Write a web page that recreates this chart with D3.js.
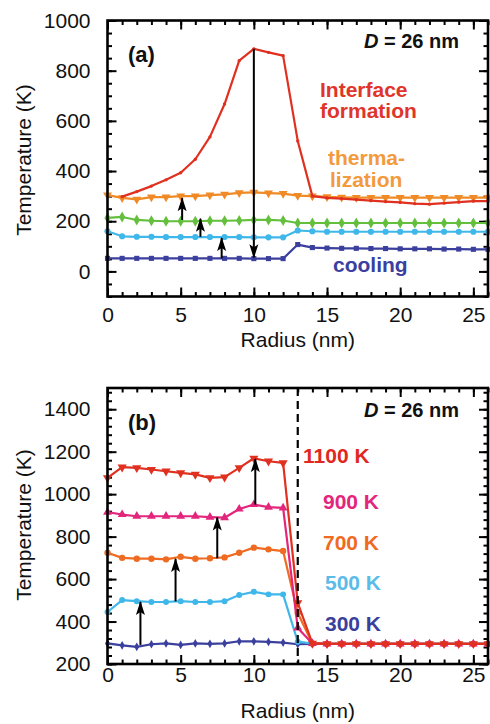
<!DOCTYPE html>
<html>
<head>
<meta charset="utf-8">
<script src="https://cdn.jsdelivr.net/npm/d3@7"></script>
<style>
  body { margin: 0; background: #fff; }
  svg text { font-family: "Liberation Sans", Arial, Helvetica, sans-serif; }
</style>
</head>
<body>
<svg id="fig" width="490" height="724"></svg>
<script>
// ---------- data ----------
const radius = [0,1,2,3,4,5,6,7,8,9,10,11,12,13,14,15,16,17,18,19,20,21,22,23,24,25,26];

// (a) temperature profiles at successive stages, D = 26 nm
const interfaceT = [null,298,318,340,365,393,447,536,667,840,887,873,860,520,300,293,290,286,282,278,275,270,268,272,276,280,280];
const thermalT   = [304,293,287,296,296,300,300,304,307,313,315,312,310,302,300,297,295,294,294,294,294,294,294,294,294,294,294];
const greenT     = [213,217,205,202,200,200,200,202,202,203,205,205,203,193,193,193,193,193,193,193,193,193,193,193,193,193,193];
const cyanT      = [160,140,138,138,137,137,137,137,137,137,136,136,136,163,160,158,158,158,158,158,158,158,158,158,158,158,158];
const coolingT   = [52,52,52,52,52,52,52,52,52,52,51,51,51,107,95,93,92,92,91,91,90,90,90,89,89,88,88];

// (b) profiles for different initial temperatures, D = 26 nm
const t1100 = [1077,1127,1124,1116,1108,1100,1093,1077,1080,1124,1169,1155,1147,488,297,295,295,295,295,295,295,295,295,295,295,295,295];
const t900  = [915,904,896,896,896,896,896,892,889,930,951,939,935,370,297,295,295,295,295,295,295,295,295,295,295,295,295];
const t700  = [724,700,696,696,693,705,696,698,702,724,748,740,732,440,297,295,295,295,295,295,295,295,295,295,295,295,295];
const t500  = [445,501,496,492,492,496,492,492,496,525,540,528,528,305,296,295,295,295,295,295,295,295,295,295,295,295,295];
const t300  = [297,288,281,293,297,290,297,295,297,307,307,304,301,293,295,295,295,295,295,295,295,295,295,295,295,295,295];

// arrows: [radius, from T, to T]
const arrowsA = [[10, 887, 56], [5.1, 205, 292], [6.35, 138, 210], [7.8, 52, 133]];
const arrowsB = [[2.25, 290, 492], [4.65, 495, 695], [7.5, 698, 890], [10.1, 951, 1165]];

// axis ticks
const xTicks  = [0, 5, 10, 15, 20, 25];
const yTicksA = [0, 200, 400, 600, 800, 1000];
const yTicksB = [200, 400, 600, 800, 1000, 1200, 1400];

// ---------- drawing ----------
const svg = d3.select("#fig");
const FONT = '"Liberation Sans", Arial, Helvetica, sans-serif';

const defs = svg.append("defs");
defs.append("marker")
  .attr("id", "head")
  .attr("viewBox", "0 0 14 10")
  .attr("refX", 13).attr("refY", 5)
  .attr("markerWidth", 14).attr("markerHeight", 10)
  .attr("markerUnits", "userSpaceOnUse")
  .attr("orient", "auto")
  .append("path").attr("d", "M0,0.5 L14,5 L0,9.5 L3,5 Z").attr("fill", "#000");

function panel(opt) {
  const x = d3.scaleLinear().domain([0, 26]).range(opt.xr);
  const y = d3.scaleLinear().domain(opt.yd).range(opt.yr);
  const g = svg.append("g");
  const [x0, x1] = opt.xr, [y0, y1] = opt.yr;

  const styleAxis = sel => {
    sel.select(".domain").remove();
    sel.attr("font-size", 21).attr("font-family", FONT);
    sel.selectAll("line").attr("stroke", "#000").attr("stroke-width", 2);
    sel.selectAll("text").attr("fill", "#111");
  };
  const minorX = d3.range(0, 27, 1);
  const minorY = d3.range(opt.yd[0], opt.yd[1] + 0.1, opt.yMinor);
  const fmt = d3.format("d");

  // minor ticks on all four sides
  g.append("g").attr("transform", `translate(0,${y0})`)
    .call(d3.axisBottom(x).tickValues(minorX).tickSize(-4.5).tickFormat("")).call(styleAxis);
  g.append("g").attr("transform", `translate(0,${y1})`)
    .call(d3.axisTop(x).tickValues(minorX).tickSize(-4.5).tickFormat("")).call(styleAxis);
  g.append("g").attr("transform", `translate(${x0},0)`)
    .call(d3.axisLeft(y).tickValues(minorY).tickSize(-4.5).tickFormat("")).call(styleAxis);
  g.append("g").attr("transform", `translate(${x1},0)`)
    .call(d3.axisRight(y).tickValues(minorY).tickSize(-4.5).tickFormat("")).call(styleAxis);

  // major ticks with labels
  g.append("g").attr("transform", `translate(0,${y0})`)
    .call(d3.axisBottom(x).tickValues(xTicks).tickSize(-9).tickPadding(opt.xPad).tickFormat(fmt)).call(styleAxis);
  g.append("g").attr("transform", `translate(0,${y1})`)
    .call(d3.axisTop(x).tickValues(xTicks).tickSize(-9).tickFormat("")).call(styleAxis);
  g.append("g").attr("transform", `translate(${x0},0)`)
    .call(d3.axisLeft(y).tickValues(opt.yTicks).tickSize(-9).tickPadding(17).tickFormat(fmt)).call(styleAxis);
  g.append("g").attr("transform", `translate(${x1},0)`)
    .call(d3.axisRight(y).tickValues(opt.yTicks).tickSize(-9).tickFormat("")).call(styleAxis);

  // series
  const line = d3.line().x(d => x(d[0])).y(d => y(d[1]));
  opt.series.forEach(s => {
    const pts = radius.map((r, i) => [r, s.values[i]]).filter(d => d[1] != null);
    g.append("path").datum(pts).attr("d", line)
      .attr("fill", "none").attr("stroke", s.color).attr("stroke-width", 2.2)
      .attr("stroke-linejoin", "round");
    g.selectAll(null).data(pts).enter().append("path")
      .attr("d", d3.symbol().type(s.shape).size(s.size)())
      .attr("transform", d => `translate(${x(d[0])},${y(d[1])})${s.flip ? " rotate(180)" : ""}`)
      .attr("fill", s.color);
  });

  // dashed marker line
  if (opt.dashAt != null) {
    g.append("line")
      .attr("x1", x(opt.dashAt)).attr("x2", x(opt.dashAt))
      .attr("y1", y1).attr("y2", y0)
      .attr("stroke", "#000").attr("stroke-width", 2.2)
      .attr("stroke-dasharray", "8,5");
  }

  // arrows
  opt.arrows.forEach(a => {
    g.append("line")
      .attr("x1", x(a[0])).attr("x2", x(a[0]))
      .attr("y1", y(a[1])).attr("y2", y(a[2]))
      .attr("stroke", "#000").attr("stroke-width", 2)
      .attr("marker-end", "url(#head)");
  });

  // frame
  g.append("rect").attr("x", x0).attr("y", y1).attr("width", x1 - x0).attr("height", y0 - y1)
    .attr("fill", "none").attr("stroke", "#000").attr("stroke-width", 2.6);

  // axis titles
  g.append("text").attr("x", (x0 + x1) / 2).attr("y", opt.xTitleY)
    .attr("text-anchor", "middle").attr("font-size", 21).attr("fill", "#111")
    .text("Radius (nm)");
  g.append("text")
    .attr("transform", `translate(31,${opt.yTitleY}) rotate(-90)`)
    .attr("text-anchor", "middle").attr("font-size", 21).attr("fill", "#111")
    .text("Temperature (K)");

  // panel tag and size note
  g.append("text").attr("x", 128).attr("y", opt.tagY).attr("font-size", 22)
    .attr("font-weight", "bold").attr("fill", "#111").text(opt.tag);
  const dt = g.append("text").attr("x", 459).attr("y", opt.dY).attr("text-anchor", "end")
    .attr("font-size", 20).attr("font-weight", "bold").attr("fill", "#111");
  dt.append("tspan").attr("font-style", "italic").text("D");
  dt.append("tspan").text(" = 26 nm");

  // series labels
  opt.labels.forEach(l => {
    g.append("text").attr("x", l.x).attr("y", l.y).attr("font-size", 21)
      .attr("font-weight", "bold").attr("fill", l.color).text(l.text);
  });
}

const RED = "#e0301f", ORANGE = "#f08a26", GREEN = "#63bf3c", CYAN = "#3fb7ea", BLUE = "#3b3f9e";
const MAG = "#e3257c", ORB = "#ef6b22";

panel({
  xr: [107.5, 488], yd: [-100, 1000], yr: [296.5, 20.5],
  yTicks: yTicksA, yMinor: 50, xPad: 11,
  xTitleY: 347, yTitleY: 160, tag: "(a)", tagY: 62, dY: 48,
  series: [
    { values: coolingT, color: BLUE, shape: d3.symbolSquare, size: 26 },
    { values: cyanT, color: CYAN, shape: d3.symbolCircle, size: 30 },
    { values: greenT, color: GREEN, shape: d3.symbolDiamond, size: 34 },
    { values: thermalT, color: ORANGE, shape: d3.symbolTriangle, size: 34, flip: true },
    { values: interfaceT, color: RED, shape: d3.symbolCircle, size: 9 }
  ],
  arrows: arrowsA,
  labels: [
    { text: "Interface", x: 320, y: 97, color: "#e0352a" },
    { text: "formation", x: 320, y: 118, color: "#e0352a" },
    { text: "therma-", x: 328, y: 165, color: "#f29a3c" },
    { text: "lization", x: 330, y: 187, color: "#f29a3c" },
    { text: "cooling", x: 333, y: 272, color: "#3b40a0" }
  ]
});

panel({
  xr: [107.5, 488], yd: [200, 1500], yr: [664, 388],
  yTicks: yTicksB, yMinor: 40, xPad: 3,
  xTitleY: 718, yTitleY: 525, tag: "(b)", tagY: 430, dY: 417, dashAt: 13,
  series: [
    { values: t300, color: BLUE, shape: d3.symbolDiamond, size: 22 },
    { values: t500, color: CYAN, shape: d3.symbolCircle, size: 28 },
    { values: t700, color: ORB, shape: d3.symbolCircle, size: 32 },
    { values: t900, color: MAG, shape: d3.symbolTriangle, size: 34 },
    { values: t1100, color: RED, shape: d3.symbolTriangle, size: 36, flip: true }
  ],
  arrows: arrowsB,
  labels: [
    { text: "1100 K", x: 303, y: 463, color: "#e0281f" },
    { text: "900 K", x: 323, y: 509, color: MAG },
    { text: "700 K", x: 323, y: 550, color: ORB },
    { text: "500 K", x: 325, y: 590, color: "#5bbbe9" },
    { text: "300 K", x: 325, y: 631, color: "#3a3f9c" }
  ]
});
</script>
</body>
</html>
